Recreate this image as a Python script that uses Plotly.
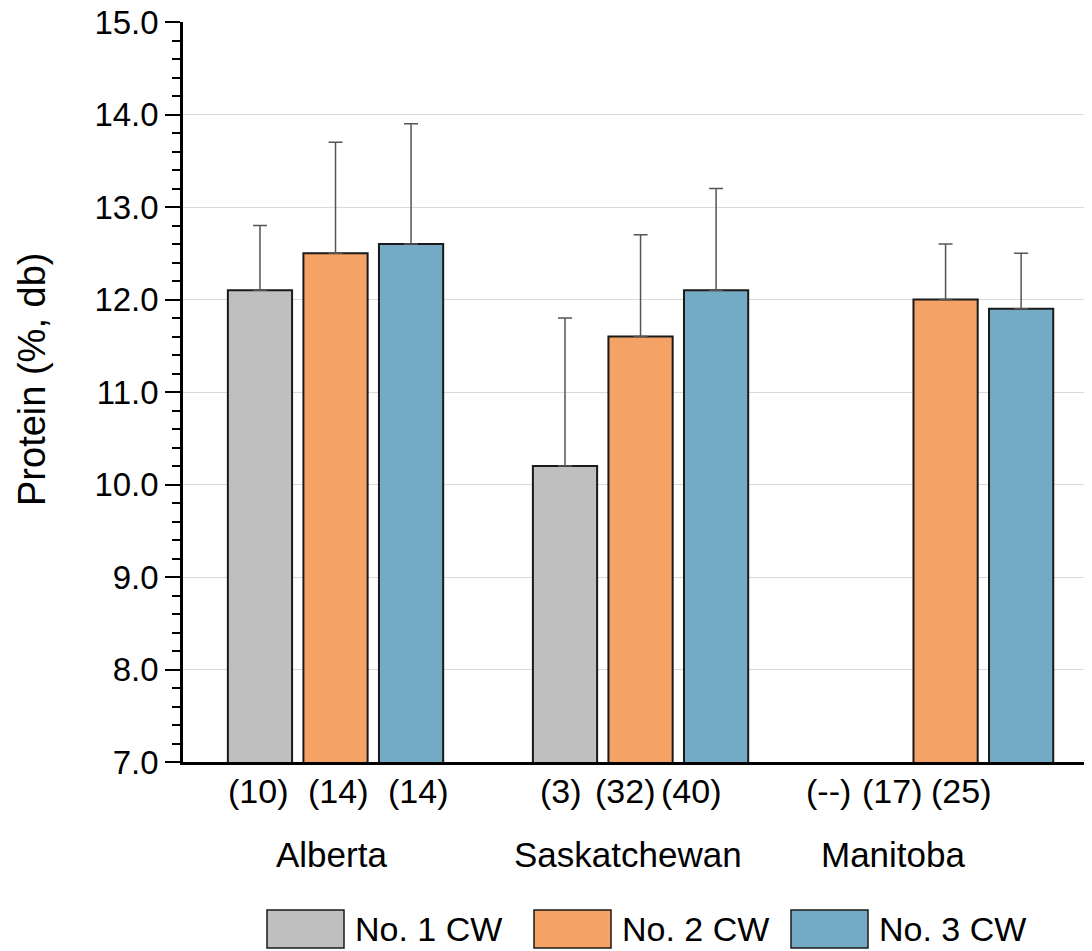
import plotly.graph_objects as go

provinces = ["Alberta", "Saskatchewan", "Manitoba"]
grades = ["No. 1 CW", "No. 2 CW", "No. 3 CW"]
colors = ["#BFBFBF", "#F4A265", "#74AAC3"]
protein = {
    "No. 1 CW": [12.1, 10.2, None],
    "No. 2 CW": [12.5, 11.6, 12.0],
    "No. 3 CW": [12.6, 12.1, 11.9],
}
error_plus = {
    "No. 1 CW": [0.7, 1.6, None],
    "No. 2 CW": [1.2, 1.1, 0.6],
    "No. 3 CW": [1.3, 1.1, 0.6],
}
counts = [["(10)", "(14)", "(14)"], ["(3)", "(32)", "(40)"], ["(--)", "(17)", "(25)"]]
yticks = [7, 8, 9, 10, 11, 12, 13, 14, 15]

# text placement offsets (pixels) relative to each category centre
count_shift = [[-77.5, 2.5, 82], [-79.5, -15.5, 50.5], [-117.5, -53.5, 15.5]]
name_shift = [-4.5, -12.5, -52]

FONT = "Arial, Liberation Sans, sans-serif"

fig = go.Figure()
for g, c in zip(grades, colors):
    fig.add_trace(go.Bar(
        x=provinces, y=protein[g], name=g,
        marker=dict(color=c, line=dict(color="#1a1a1a", width=2)),
        error_y=dict(type="data", array=error_plus[g], symmetric=False,
                     arrayminus=[0] * len(provinces),
                     color="#555555", thickness=1.5, width=7),
        showlegend=False,
    ))

annotations = []
for i, p in enumerate(provinces):
    for j, t in enumerate(counts[i]):
        annotations.append(dict(x=p, xref="x", y=0, yref="paper", yanchor="top",
                                xanchor="center", yshift=-8, xshift=count_shift[i][j],
                                text=t, showarrow=False,
                                font=dict(size=34, color="black", family=FONT)))
    annotations.append(dict(x=p, xref="x", y=0, yref="paper", yanchor="top",
                            xanchor="center", yshift=-71, xshift=name_shift[i],
                            text=p, showarrow=False,
                            font=dict(size=35, color="black", family=FONT)))

annotations.append(dict(x=0, xref="paper", y=0.5, yref="paper", xshift=-151, yshift=12,
                        xanchor="center", yanchor="middle",
                        text="Protein (%, db)", textangle=-90, showarrow=False,
                        font=dict(size=38, color="black", family=FONT)))

# custom legend (large swatches)
shapes = []
box_left = [267, 534, 791]
for k, (g, c) in enumerate(zip(grades, colors)):
    x0 = (box_left[k] - 183) / 909
    x1 = (box_left[k] + 77 - 183) / 909
    shapes.append(dict(type="rect", xref="paper", yref="paper",
                       x0=x0, x1=x1, y0=(762 - 910) / 740, y1=(762 - 948) / 740,
                       fillcolor=c, line=dict(color="#1a1a1a", width=1.5)))
    annotations.append(dict(x=x1, xref="paper", y=(762 - 929) / 740, yref="paper",
                            xanchor="left", yanchor="middle", xshift=9,
                            text=g, showarrow=False,
                            font=dict(size=34, color="black", family=FONT)))

fig.update_layout(
    width=1084, height=943,
    margin=dict(l=175, r=0, t=14, b=189, autoexpand=False),
    paper_bgcolor="white", plot_bgcolor="white",
    barmode="group", bargap=0.257, bargroupgap=0.15,
    font=dict(family=FONT, color="black"),
    annotations=annotations, shapes=shapes,
    xaxis=dict(range=[-0.5, 2.48], showticklabels=False, ticks="",
               showline=True, linecolor="black", linewidth=2.5, showgrid=False,
               zeroline=False, automargin=False),
    yaxis=dict(range=[7, 15], tickvals=yticks,
               ticktext=[f"{v:.1f}" for v in yticks],
               tickfont=dict(size=33, color="black", family=FONT),
               ticklabeloverflow="allow", automargin=False,
               ticks="outside", ticklen=15, tickwidth=2, tickcolor="black",
               showline=True, linecolor="black", linewidth=2.5,
               showgrid=True, gridcolor="#D9D9D9", gridwidth=1, zeroline=False,
               minor=dict(dtick=0.2, ticks="outside", ticklen=8, tickwidth=2,
                          tickcolor="black", showgrid=False)),
)

fig.write_html("out.html")
